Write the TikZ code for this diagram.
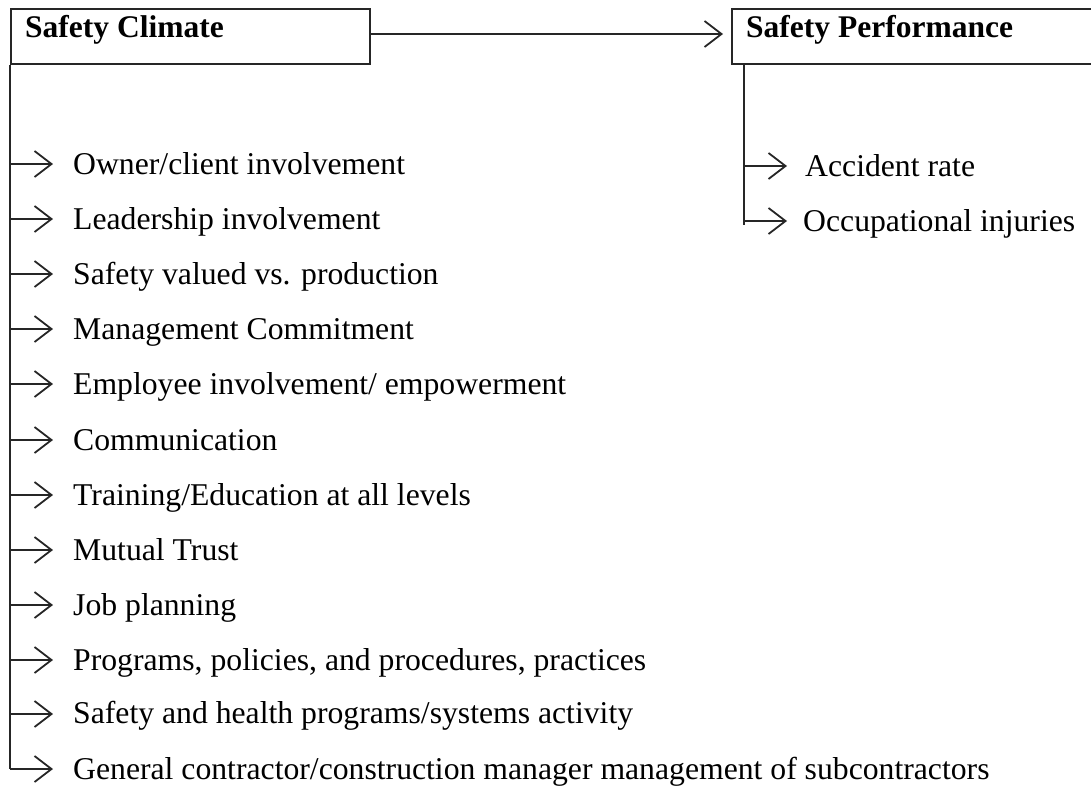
\documentclass[tikz,border=0pt]{standalone}
\usepackage{fontspec}
\setmainfont{Liberation Serif}
\usetikzlibrary{arrows.meta}
\begin{document}
\begin{tikzpicture}[x=1pt,y=-1pt,
  line/.style={line width=1.6pt, draw=black!85},
  arr/.style={line, -{Straight Barb[length=17pt,width=26pt,line width=1.8pt]}},
  lbl/.style={inner sep=0pt, anchor=base west, font=\fontsize{31.7}{36}\selectfont},
  ttl/.style={inner sep=0pt, anchor=base west, font=\fontsize{31.5}{36}\selectfont\bfseries},
  boxx/.style={line, draw, inner sep=0pt, anchor=north west}]
\useasboundingbox (0,0) rectangle (1091,785);
\clip (0,0) rectangle (1091,785);
% header boxes
\node[boxx, minimum width=359pt, minimum height=55pt] (sc) at (10,8) {};
\node[boxx, minimum width=420pt, minimum height=55pt] (sp) at (731,8) {};
\node[ttl] (sct) at (25,37) {Safety Climate};
\node[ttl] (spt) at (746,37) {Safety Performance};
\coordinate (ay) at (0,34);
\draw[arr, shorten >=8pt] (sc.east |- ay) -- (sp.west |- ay);
% left items
\coordinate (l0) at (10,164);
\coordinate (l1) at (10,219);
\coordinate (l2) at (10,274);
\coordinate (l3) at (10,329);
\coordinate (l4) at (10,384);
\coordinate (l5) at (10,440);
\coordinate (l6) at (10,495);
\coordinate (l7) at (10,550);
\coordinate (l8) at (10,605);
\coordinate (l9) at (10,660);
\coordinate (l10) at (10,714);
\coordinate (l11) at (10,769);
\node[lbl] (it0) at (73,174) {Owner/client involvement};
\node[lbl] (it1) at (73,229) {Leadership involvement};
\node[lbl] (it2) at (73,284) {Safety valued vs. production};
\node[lbl] (it3) at (73,339) {Management Commitment};
\node[lbl] (it4) at (73,394) {Employee involvement/ empowerment};
\node[lbl] (it5) at (73,450) {Communication};
\node[lbl] (it6) at (73,505) {Training/Education at all levels};
\node[lbl] (it7) at (73,560) {Mutual Trust};
\node[lbl] (it8) at (73,615) {Job planning};
\node[lbl] (it9) at (73,670) {Programs, policies, and procedures, practices};
\node[lbl] (it10) at (73,723) {Safety and health programs/systems activity};
\node[lbl] (it11) at (73,779) {General contractor/construction manager management of subcontractors};
\draw[line] (sc.south west) -- (l11);
\foreach \i in {0,...,11}
  \draw[arr, shorten >=20pt] (l\i) -- (l\i -| it\i.west);
% right items
\coordinate (rtop) at (744,63);
\coordinate (r0) at (744,166);
\coordinate (r1) at (744,221);
\coordinate (rend) at (744,225);
\node[lbl] (pr0) at (805,176) {Accident rate};
\node[lbl] (pr1) at (803,231) {Occupational injuries};
\draw[line] (rtop) -- (rend);
\draw[arr, shorten >=18pt] (r0) -- (r0 -| pr0.west);
\draw[arr, shorten >=16pt] (r1) -- (r1 -| pr1.west);
\end{tikzpicture}
\end{document}
